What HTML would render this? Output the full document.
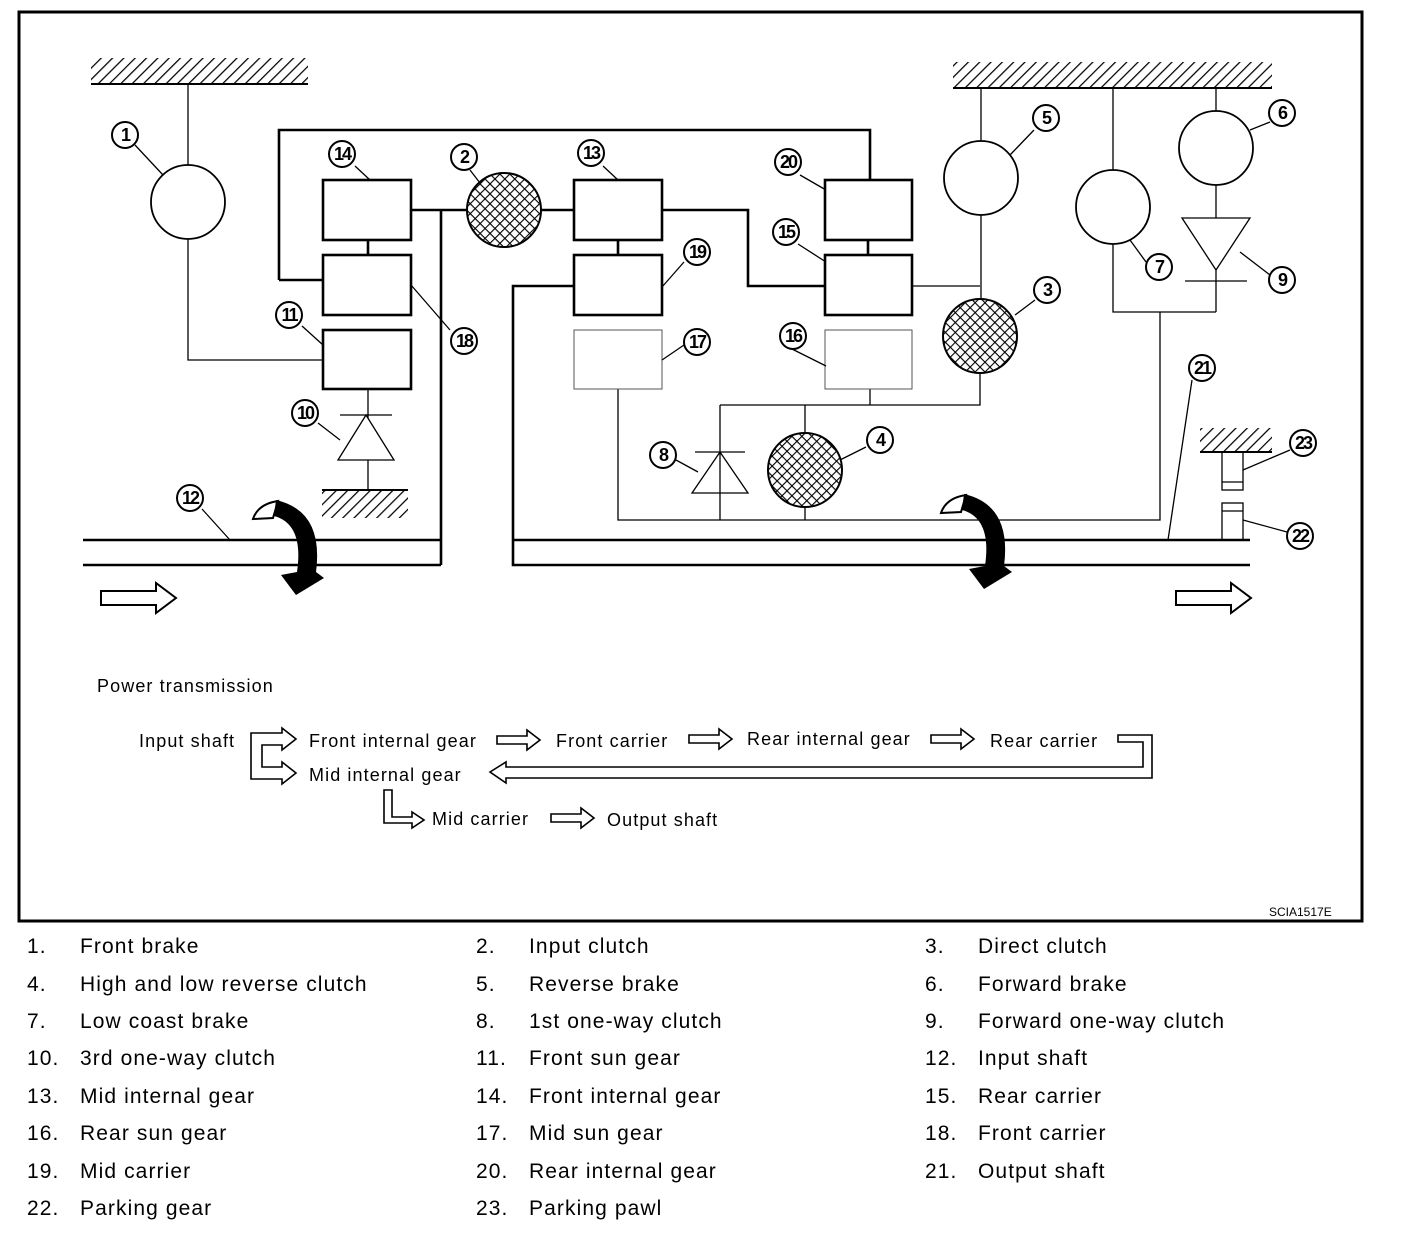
<!DOCTYPE html>
<html><head><meta charset="utf-8"><style>
html,body{margin:0;padding:0;background:#fff}
svg{display:block}
text{font-family:"Liberation Sans",sans-serif;fill:#000}
.n{font-family:"Liberation Sans",sans-serif;font-weight:bold;font-size:18px;text-anchor:middle;letter-spacing:-2px}
</style></head><body>
<svg width="1408" height="1234" viewBox="0 0 1408 1234" xmlns="http://www.w3.org/2000/svg">
<defs>
<pattern id="h" width="8" height="8" patternUnits="userSpaceOnUse" patternTransform="rotate(45)"><line x1="0" y1="0" x2="0" y2="8" stroke="#000" stroke-width="2.5"/></pattern>
<pattern id="x" width="7" height="7" patternUnits="userSpaceOnUse" patternTransform="rotate(45)"><rect width="7" height="7" fill="#fff"/><path d="M0 0H7M0 0V7" stroke="#000" stroke-width="2.2"/></pattern>
<path id="sa" d="M0,-4H30V-10L43,0L30,10V4H0Z" fill="#fff" stroke="#000" stroke-width="1.6"/>
<path id="ba" d="M0,-7H55V-15L75,0L55,15V7H0Z" fill="#fff" stroke="#000" stroke-width="2"/>
<g id="rot">
<path d="M941,513 Q946,498 966,495 L961,512 Z" fill="#fff" stroke="#000" stroke-width="2"/>
<path d="M964,494 Q1012,505 1004,566 L1012,572 L984,589 L969,569 L985,566 Q992,518 962,510 Z" fill="#000"/>
</g>
</defs>
<rect x="19" y="12" width="1343" height="909" fill="none" stroke="#000" stroke-width="3"/>

<rect x="91" y="58" width="217" height="26" fill="url(#h)"/><line x1="91" y1="84" x2="308" y2="84" stroke="#000" stroke-width="2"/>
<rect x="953" y="62" width="319" height="26" fill="url(#h)"/><line x1="953" y1="88" x2="1272" y2="88" stroke="#000" stroke-width="2"/>
<rect x="322" y="490" width="86" height="28" fill="url(#h)"/><line x1="322" y1="490" x2="408" y2="490" stroke="#000" stroke-width="2"/>
<rect x="1200" y="428" width="72" height="24" fill="url(#h)"/><line x1="1200" y1="452" x2="1272" y2="452" stroke="#000" stroke-width="2"/>

<g fill="none" stroke="#000" stroke-width="1.3">
<path d="M188,84V165M188,239V360H323"/>
<path d="M368,389V490M340,415H392"/>
<path d="M338,460H394L366,415Z" fill="#fff"/>
<path d="M912,286H980M981,88V141M981,215V299"/>
<path d="M1113,88V170M1113,244V312H1216M1216,88V111M1216,185V312"/>
<path d="M1182,218H1250L1216,270Z" fill="#fff"/>
<path d="M1185,281H1247"/>
<path d="M720,405V520M692,493H748L720,452Z" fill="#fff"/>
<path d="M695,452H745"/>
<path d="M618,389V520H1160V312"/>
<path d="M720,405H980V373M870,389V405M805,405V433M805,507V520"/>
<rect x="1222" y="452" width="21" height="38"/><line x1="1222" y1="482" x2="1243" y2="482"/>
<rect x="1222" y="503" width="21" height="37"/><line x1="1222" y1="511" x2="1243" y2="511"/>
</g>

<g fill="none" stroke="#000" stroke-width="2.6">
<circle cx="188" cy="202" r="37" stroke-width="1.8"/>
<circle cx="981" cy="178" r="37" stroke-width="1.8"/>
<circle cx="1113" cy="207" r="37" stroke-width="1.8"/>
<circle cx="1216" cy="148" r="37" stroke-width="1.8"/>
<circle cx="504" cy="210" r="37" fill="url(#x)" stroke-width="2"/>
<circle cx="980" cy="336" r="37" fill="url(#x)" stroke-width="2"/>
<circle cx="805" cy="470" r="37" fill="url(#x)" stroke-width="2"/>
<path d="M279,280V130H870V180M279,280H323"/>
<path d="M411,210H467M541,210H574M368,240V255M618,240V255"/>
<path d="M441,210V565M83,540H441M83,565H441"/>
<path d="M574,286H513V565H1250M513,540H1250"/>
<path d="M662,210H748V286H825M868,240V255"/>
<rect x="323" y="180" width="88" height="60"/>
<rect x="323" y="255" width="88" height="60"/>
<rect x="323" y="330" width="88" height="59"/>
<rect x="574" y="180" width="88" height="60"/>
<rect x="574" y="255" width="88" height="60"/>
<rect x="825" y="180" width="87" height="60"/>
<rect x="825" y="255" width="87" height="60"/>
</g>
<rect x="574" y="330" width="88" height="59" fill="none" stroke="#555" stroke-width="1"/>
<rect x="825" y="330" width="87" height="59" fill="none" stroke="#555" stroke-width="1"/>

<use href="#rot"/>
<use href="#rot" transform="translate(-688,6)"/>
<use href="#ba" x="101" y="598"/>
<use href="#ba" x="1176" y="598"/>

<g stroke="#000" stroke-width="1.3" fill="none">
<path d="M135,145L163,175M355,166L370,180M470,170L480,183M603,166L618,180M800,175L826,190M798,244L826,262M684,262L662,287M684,345L662,360M792,349L826,366M450,330L411,285M302,326L323,345M318,423L340,440M202,509L230,540M676,460L698,472M866,447L840,460M1035,300L1015,315M1034,130L1010,155M1270,122L1250,130M1146,262L1130,240M1270,275L1240,252M1192,380L1168,540M1290,450L1243,470M1287,532L1243,520"/>
</g>
<g fill="#fff" stroke="#000" stroke-width="2">
<circle cx="125" cy="135" r="13"/><circle cx="342" cy="154" r="13"/><circle cx="464" cy="157" r="13"/><circle cx="591" cy="153" r="13"/><circle cx="788" cy="162" r="13"/><circle cx="786" cy="232" r="13"/><circle cx="697" cy="252" r="13"/><circle cx="697" cy="342" r="13"/><circle cx="793" cy="336" r="13"/><circle cx="464" cy="341" r="13"/><circle cx="289" cy="315" r="13"/><circle cx="305" cy="413" r="13"/><circle cx="190" cy="498" r="13"/><circle cx="663" cy="455" r="13"/><circle cx="880" cy="440" r="13"/><circle cx="1047" cy="290" r="13"/><circle cx="1046" cy="118" r="13"/><circle cx="1282" cy="113" r="13"/><circle cx="1159" cy="267" r="13"/><circle cx="1282" cy="280" r="13"/><circle cx="1202" cy="368" r="13"/><circle cx="1303" cy="443" r="13"/><circle cx="1300" cy="536" r="13"/>
</g>
<g class="n">
<text class="n" x="125" y="141">1</text><text class="n" x="342" y="160">14</text><text class="n" x="464" y="163">2</text><text class="n" x="591" y="159">13</text><text class="n" x="788" y="168">20</text><text class="n" x="786" y="238">15</text><text class="n" x="697" y="258">19</text><text class="n" x="697" y="348">17</text><text class="n" x="793" y="342">16</text><text class="n" x="464" y="347">18</text><text class="n" x="289" y="321">11</text><text class="n" x="305" y="419">10</text><text class="n" x="190" y="504">12</text><text class="n" x="663" y="461">8</text><text class="n" x="880" y="446">4</text><text class="n" x="1047" y="296">3</text><text class="n" x="1046" y="124">5</text><text class="n" x="1282" y="119">6</text><text class="n" x="1159" y="273">7</text><text class="n" x="1282" y="286">9</text><text class="n" x="1202" y="374">21</text><text class="n" x="1303" y="449">23</text><text class="n" x="1300" y="542">22</text>
</g>

<g font-size="18" letter-spacing="1.1">
<text x="97" y="692">Power transmission</text>
<text x="139" y="747">Input shaft</text>
<text x="309" y="747">Front internal gear</text>
<text x="556" y="747">Front carrier</text>
<text x="747" y="745">Rear internal gear</text>
<text x="990" y="747">Rear carrier</text>
<text x="309" y="781">Mid internal gear</text>
<text x="432" y="825">Mid carrier</text>
<text x="607" y="826">Output shaft</text>
</g>
<g fill="#fff" stroke="#000" stroke-width="1.6">
<path d="M251,733H282V728L296,739L282,750V745H262V767H282V762L296,773L282,784V779H251Z"/>
<path d="M384,790H392V817H412V812L424,820L412,828V823H384Z"/>
<path d="M490,772L506,762V767H1143V742H1118V735H1152V778H506V783Z"/>
</g>
<use href="#sa" x="497" y="740"/>
<use href="#sa" x="689" y="739"/>
<use href="#sa" x="931" y="739"/>
<use href="#sa" x="551" y="818"/>
<text x="1269" y="916" font-size="12">SCIA1517E</text>

<g font-size="21" letter-spacing="1.1">
<text x="27" y="953">1.</text><text x="80" y="953">Front brake</text>
<text x="476" y="953">2.</text><text x="529" y="953">Input clutch</text>
<text x="925" y="953">3.</text><text x="978" y="953">Direct clutch</text>
<text x="27" y="991">4.</text><text x="80" y="991">High and low reverse clutch</text>
<text x="476" y="991">5.</text><text x="529" y="991">Reverse brake</text>
<text x="925" y="991">6.</text><text x="978" y="991">Forward brake</text>
<text x="27" y="1028">7.</text><text x="80" y="1028">Low coast brake</text>
<text x="476" y="1028">8.</text><text x="529" y="1028">1st one-way clutch</text>
<text x="925" y="1028">9.</text><text x="978" y="1028">Forward one-way clutch</text>
<text x="27" y="1065">10.</text><text x="80" y="1065">3rd one-way clutch</text>
<text x="476" y="1065">11.</text><text x="529" y="1065">Front sun gear</text>
<text x="925" y="1065">12.</text><text x="978" y="1065">Input shaft</text>
<text x="27" y="1103">13.</text><text x="80" y="1103">Mid internal gear</text>
<text x="476" y="1103">14.</text><text x="529" y="1103">Front internal gear</text>
<text x="925" y="1103">15.</text><text x="978" y="1103">Rear carrier</text>
<text x="27" y="1140">16.</text><text x="80" y="1140">Rear sun gear</text>
<text x="476" y="1140">17.</text><text x="529" y="1140">Mid sun gear</text>
<text x="925" y="1140">18.</text><text x="978" y="1140">Front carrier</text>
<text x="27" y="1178">19.</text><text x="80" y="1178">Mid carrier</text>
<text x="476" y="1178">20.</text><text x="529" y="1178">Rear internal gear</text>
<text x="925" y="1178">21.</text><text x="978" y="1178">Output shaft</text>
<text x="27" y="1215">22.</text><text x="80" y="1215">Parking gear</text>
<text x="476" y="1215">23.</text><text x="529" y="1215">Parking pawl</text>
</g>
</svg>
</body></html>
